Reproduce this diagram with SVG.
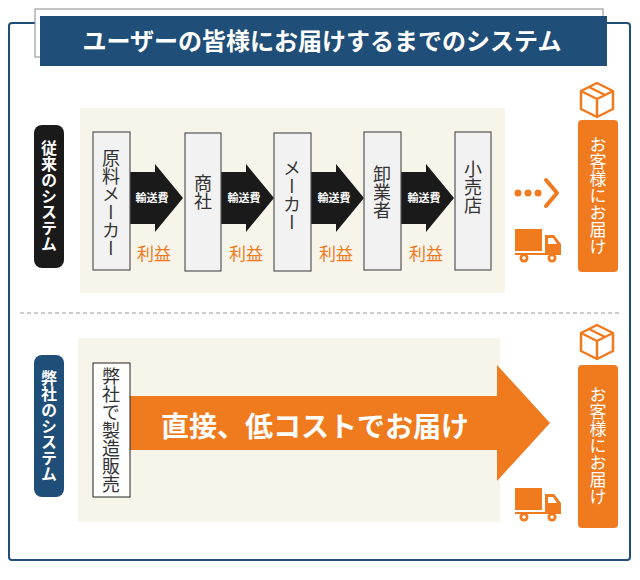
<svg xmlns="http://www.w3.org/2000/svg" width="640" height="580" viewBox="0 0 640 580">
<defs>
<style>
text{font-family:"Noto Sans CJK JP","Noto Sans",sans-serif}
.v{writing-mode:vertical-rl;text-anchor:middle}
.box{fill:#f2f2f2;stroke:#555;stroke-width:1.2}
.bt{font-size:18px;fill:#333}
.pt{font-size:16px;font-weight:bold;fill:#fff}
.ship{font-size:11px;font-weight:bold;fill:#fff;text-anchor:middle}
.prof{font-size:17px;fill:#f07a1e;text-anchor:middle}
.or{fill:#f07a1e}
.ico{fill:none;stroke:#f07a1e;stroke-width:2.5;stroke-linejoin:round}
</style>
<g id="truck"><rect x="0" y="0" width="27" height="22" class="or"/><path d="M30 6h9l7 9v9H30z" class="or"/><path d="M33 9h5l4 6h-9z" fill="#fff"/><rect x="0" y="24" width="46" height="2" class="or"/><circle cx="9" cy="29" r="4.5" class="or"/><circle cx="9" cy="29" r="1.8" fill="#fff"/><circle cx="37" cy="29" r="4.5" class="or"/><circle cx="37" cy="29" r="1.8" fill="#fff"/></g>
<g id="pkg"><path class="ico" d="M0 -17 L16 -9 L16 9 L0 17 L-16 9 L-16 -9 Z M-16 -9 L0 -1 L16 -9 M0 -1 V17 M-8 -13 L8 -5"/></g>
</defs>
<rect width="640" height="580" fill="#fff"/>
<rect x="9" y="23" width="621" height="537" rx="3" fill="#fff" stroke="#1f4e79" stroke-width="2"/>
<g id="title"><rect x="35" y="9" width="568" height="48" fill="#fff" stroke="#888"/><rect x="40" y="16" width="567" height="50" fill="#1f4e79"/><text x="322" y="50" font-size="24" font-weight="bold" fill="#fff" text-anchor="middle">ユーザーの皆様にお届けするまでのシステム</text></g>
<line x1="20" y1="313" x2="620" y2="313" stroke="#999" stroke-dasharray="4,3"/>
<rect x="80" y="108" width="425" height="185" fill="#f7f5ea"/>
<rect x="78" y="338" width="422" height="184" fill="#f7f5ea"/>
<g id="label-old"><rect x="34" y="125" width="30" height="143" rx="8" fill="#1a1a1a"/><text class="v pt" x="49" y="196">従来のシステム</text></g>
<g id="label-new"><rect x="34" y="355" width="30" height="142" rx="8" fill="#1f4e79"/><text class="v pt" x="49" y="426">弊社のシステム</text></g>
<g id="connectors">
<g fill="#1a1a1a">
<path d="M130 172h25v-8l28 34-28 34v-8h-25z"/>
<path d="M221 172h25v-8l28 34-28 34v-8h-25z"/>
<path d="M311 172h25v-8l28 34-28 34v-8h-25z"/>
<path d="M401 172h25v-8l28 34-28 34v-8h-25z"/>
</g>
<text class="ship" x="152" y="202">輸送費</text><text class="ship" x="244" y="202">輸送費</text><text class="ship" x="334" y="202">輸送費</text><text class="ship" x="424" y="202">輸送費</text>
<text class="prof" x="154" y="260">利益</text><text class="prof" x="246" y="260">利益</text><text class="prof" x="336" y="260">利益</text><text class="prof" x="426" y="260">利益</text>
<circle cx="518" cy="193" r="3.5" class="or"/><circle cx="528" cy="193" r="3.5" class="or"/><circle cx="538" cy="193" r="3.5" class="or"/>
<path d="M546 180l11 13-11 13" fill="none" stroke="#f07a1e" stroke-width="4" stroke-linecap="round" stroke-linejoin="round"/>
<path d="M130 396h367v-31l53 58-53 58v-31h-367z" fill="#f07a1e"/>
<text x="315" y="437" font-size="28" font-weight="bold" fill="#fff" text-anchor="middle">直接、低コストでお届け</text>
</g>
<g id="n1"><rect class="box" x="93" y="132" width="37" height="138"/><text class="v bt" x="111" y="203">原料メーカー</text></g>
<g id="n2"><rect class="box" x="185" y="133" width="36" height="138"/><text class="v bt" x="203" y="192">商社</text></g>
<g id="n3"><rect class="box" x="274" y="133" width="37" height="138"/><text class="v bt" x="292" y="195">メーカー</text></g>
<g id="n4"><rect class="box" x="364" y="132" width="37" height="138"/><text class="v bt" x="382" y="192">卸業者</text></g>
<g id="n5"><rect class="box" x="455" y="132" width="36" height="138"/><text class="v bt" x="473" y="187">小売店</text></g>
<g id="n6"><rect x="93" y="363" width="37" height="134" fill="#fff" stroke="#222"/><text class="v bt" x="111" y="430">弊社で製造販売</text></g>
<g id="cust1"><use href="#pkg" x="597" y="100"/><rect x="578" y="120" width="40" height="152" rx="4" class="or"/><text class="v" x="598" y="196" font-size="17" fill="#fff">お客様にお届け</text><use href="#truck" x="515" y="229"/></g>
<g id="cust2"><use href="#pkg" x="597" y="342"/><rect x="578" y="365" width="40" height="163" rx="4" class="or"/><text class="v" x="598" y="446" font-size="17" fill="#fff">お客様にお届け</text><use href="#truck" x="515" y="488"/></g>
</svg>
